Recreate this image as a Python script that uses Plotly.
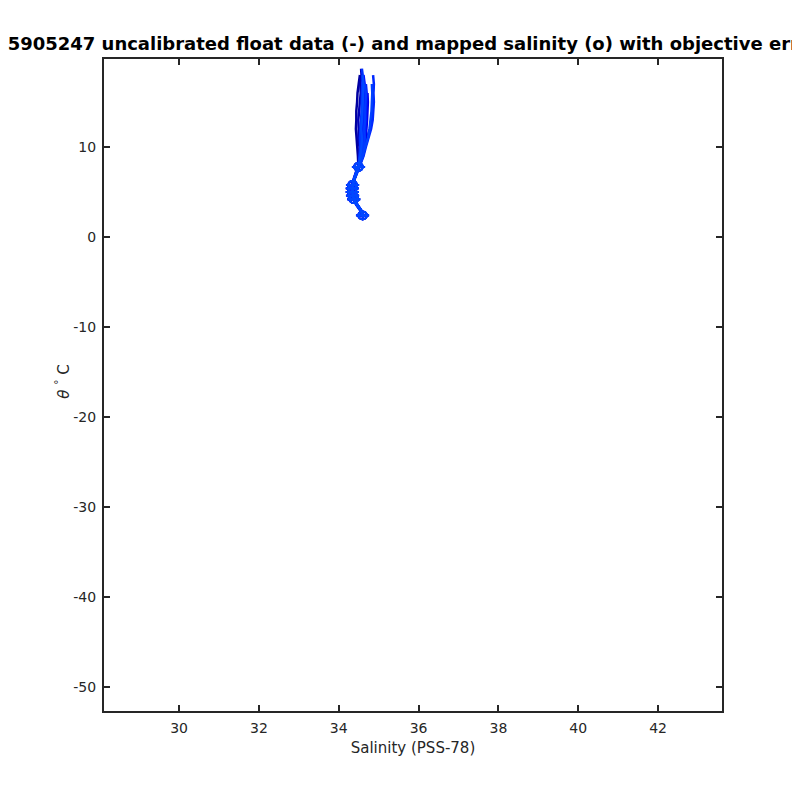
import plotly.graph_objects as go

theta_levels = [2.2, 2.5, 3.0, 3.5, 4.0, 4.5, 5.0, 5.5, 6.0, 6.5, 7.0, 7.5, 8.0,
                9.0, 10.0, 11.0, 12.0, 13.0, 14.0, 15.0, 16.0, 17.0, 18.0, 18.7]

sal_p1 = [34.61, 34.59, 34.54, 34.46, 34.39, 34.35, 34.33, 34.33, 34.35, 34.38, 34.42, 34.46, 34.49,
          34.48, 34.46, 34.45, 34.43, 34.44, 34.44, 34.46, 34.47, 34.50, 34.53, None]
sal_p2 = [34.62, 34.60, 34.55, 34.47, 34.40, 34.36, 34.34, 34.34, 34.36, 34.39, 34.43, 34.47, 34.50,
          34.51, 34.52, 34.49, 34.50, 34.49, 34.51, 34.52, 34.55, 34.54, 34.57, 34.56]
sal_p3 = [34.63, 34.61, 34.56, 34.48, 34.41, 34.37, 34.35, 34.35, 34.37, 34.40, 34.44, 34.48, 34.52,
          34.58, 34.64, 34.71, 34.78, 34.83, 34.85, 34.86, 34.85, 34.87, None, None]
sal_p4 = [34.62, 34.60, 34.55, 34.47, 34.40, 34.36, 34.34, 34.34, 34.36, 34.40, 34.44, 34.48, 34.53,
          34.61, 34.66, 34.68, 34.70, 34.71, 34.72, 34.73, 34.72, None, None, None]
sal_p5 = [34.60, 34.58, 34.53, 34.45, 34.38, 34.34, 34.32, 34.32, 34.34, 34.38, 34.42, 34.46, 34.49,
          34.53, 34.56, 34.57, 34.60, 34.61, 34.64, 34.65, 34.66, 34.65, 34.62, None]
sal_p6 = [34.61, 34.59, 34.54, 34.46, 34.39, 34.35, 34.33, 34.33, 34.35, 34.39, 34.43, 34.47, 34.52,
          34.59, 34.62, 34.65, 34.67, 34.68, 34.69, 34.70, 34.70, 34.68, None, None]
sal_p7 = [34.62, 34.60, 34.55, 34.47, 34.40, 34.36, 34.34, 34.34, 34.36, 34.39, 34.43, 34.47, 34.50,
          34.56, 34.58, 34.61, 34.62, 34.63, 34.61, 34.60, 34.61, 34.62, 34.60, None]
sal_p8 = [34.63, 34.61, 34.56, 34.48, 34.41, 34.37, 34.35, 34.35, 34.37, 34.40, 34.45, 34.49, 34.54,
          34.62, 34.68, 34.75, 34.81, 34.85, 34.87, 34.88, 34.87, 34.88, 34.86, None]
sal_p9 = [34.62, 34.60, 34.55, 34.47, 34.40, 34.36, 34.34, 34.34, 34.36, 34.39, 34.43, 34.47, 34.50,
          34.52, 34.54, 34.53, 34.55, 34.56, 34.57, 34.57, 34.58, 34.59, 34.60, 34.58]
sal_p10 = [34.61, 34.59, 34.54, 34.46, 34.39, 34.35, 34.33, 34.33, 34.35, 34.39, 34.43, 34.47, 34.51,
           34.60, 34.63, 34.65, 34.64, 34.66, 34.66, 34.67, 34.68, 34.66, None, None]
sal_p11 = [34.63, 34.61, 34.56, 34.48, 34.41, 34.37, 34.35, 34.35, 34.37, 34.40, 34.44, 34.48, 34.53,
           34.60, 34.66, 34.73, 34.77, 34.80, 34.82, 34.83, 34.84, 34.83, None, None]
sal_p12 = [34.62, 34.60, 34.55, 34.47, 34.40, 34.36, 34.34, 34.34, 34.36, 34.39, 34.43, 34.47, 34.50,
           34.54, 34.57, 34.58, 34.56, 34.58, 34.59, 34.61, 34.61, 34.62, 34.60, None]

mapped_theta = [2.4, 4.2, 4.6, 5.0, 5.4, 5.8, 7.8]
mapped_sal_p1 = [34.59, 34.37, 34.34, 34.33, 34.33, 34.34, 34.48]
mapped_sal_p2 = [34.60, 34.38, 34.35, 34.34, 34.34, 34.35, 34.49]
mapped_sal_p3 = [34.61, 34.39, 34.36, 34.35, 34.35, 34.36, 34.50]
mapped_sal_p4 = [34.60, 34.38, 34.35, 34.34, 34.34, 34.35, 34.50]
mapped_sal_p5 = [34.58, 34.36, 34.33, 34.32, 34.32, 34.33, 34.48]
mapped_sal_p6 = [34.59, 34.37, 34.34, 34.33, 34.33, 34.34, 34.49]
mapped_sal_p7 = [34.60, 34.38, 34.35, 34.34, 34.34, 34.35, 34.49]
mapped_sal_p8 = [34.61, 34.39, 34.36, 34.35, 34.35, 34.36, 34.51]
mapped_sal_p9 = [34.60, 34.38, 34.35, 34.34, 34.34, 34.35, 34.49]
mapped_sal_p10 = [34.59, 34.37, 34.34, 34.33, 34.33, 34.34, 34.50]
mapped_sal_p11 = [34.61, 34.39, 34.36, 34.35, 34.35, 34.36, 34.51]
mapped_sal_p12 = [34.60, 34.38, 34.35, 34.34, 34.34, 34.35, 34.49]
mapped_err = [0.02, 0.02, 0.02, 0.02, 0.02, 0.02, 0.02]

profile_colors = ["#0000a0", "#0000b8", "#0000d0", "#0000e8", "#0008ff", "#0014ff",
                  "#0020ff", "#0028ff", "#0030ff", "#0038ff", "#0040ff", "#0048ff"]

float_sal = [sal_p1, sal_p2, sal_p3, sal_p4, sal_p5, sal_p6,
             sal_p7, sal_p8, sal_p9, sal_p10, sal_p11, sal_p12]
mapped_sal = [mapped_sal_p1, mapped_sal_p2, mapped_sal_p3, mapped_sal_p4,
              mapped_sal_p5, mapped_sal_p6, mapped_sal_p7, mapped_sal_p8,
              mapped_sal_p9, mapped_sal_p10, mapped_sal_p11, mapped_sal_p12]

x_ticks = [30, 32, 34, 36, 38, 40, 42]
x_tick_labels = ["30", "32", "34", "36", "38", "40", "42"]
y_ticks = [-50, -40, -30, -20, -10, 0, 10]
y_tick_labels = ["-50", "-40", "-30", "-20", "-10", "0", "10"]

fig = go.Figure()
for sal, msal, col in zip(float_sal, mapped_sal, profile_colors):
    fig.add_trace(go.Scatter(x=sal, y=theta_levels, mode="lines",
                             line=dict(color=col, width=2.5), connectgaps=False,
                             showlegend=False, hoverinfo="skip"))
    fig.add_trace(go.Scatter(x=msal, y=mapped_theta, mode="markers",
                             marker=dict(symbol="circle-open", size=8, color=col,
                                         line=dict(width=1.5, color=col)),
                             error_y=dict(type="data", array=mapped_err, visible=True,
                                          color=col, thickness=1.5, width=6),
                             showlegend=False, hoverinfo="skip"))

axis_common = dict(showgrid=False, zeroline=False, showline=True, linecolor="#262626",
                   linewidth=2, mirror="ticks", ticks="inside", ticklen=6,
                   tickwidth=2, tickcolor="#262626", automargin=False,
                   ticklabelstandoff=3,
                   tickfont=dict(family="DejaVu Sans", size=14, color="#262626"))

fig.update_layout(
    width=800, height=800,
    paper_bgcolor="white", plot_bgcolor="white",
    margin=dict(l=96, r=86, t=51, b=97),
    title=dict(text="<b>15905247 uncalibrated float data (-) and mapped salinity (o) with objective errors</b>",
               x=0.5, xref="paper", xanchor="center", y=1, yref="container",
               yanchor="top", pad=dict(t=29),
               font=dict(family="DejaVu Sans", size=18, color="black")),
    xaxis=dict(range=[28.12, 43.6], tickvals=x_ticks, ticktext=x_tick_labels,
               title=dict(text="Salinity (PSS-78)", standoff=8,
                          font=dict(family="DejaVu Sans", size=15, color="#262626")),
               **axis_common),
    yaxis=dict(range=[-52.67, 19.78], tickvals=y_ticks, ticktext=y_tick_labels,
               **axis_common),
    annotations=[dict(text="<i>θ</i> <sup>°</sup> C", xref="paper", yref="paper",
                      x=-0.068, y=0.505, xanchor="center", yanchor="middle",
                      textangle=-90, showarrow=False,
                      font=dict(family="DejaVu Sans", size=15, color="#262626"))],
)

fig.write_html("out.html")
